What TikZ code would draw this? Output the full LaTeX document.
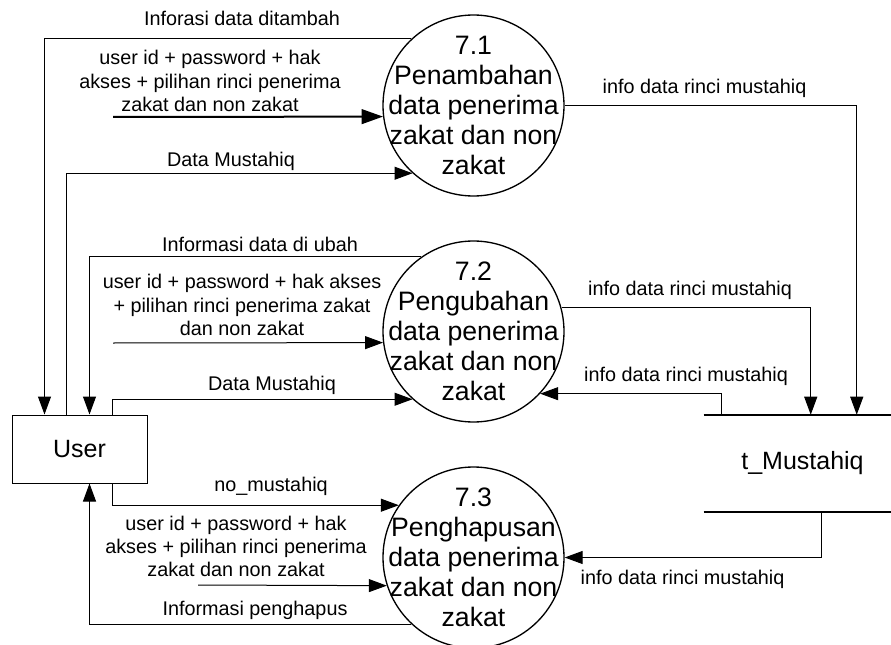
\documentclass[tikz,border=0pt]{standalone}
\usepackage{fontspec}
\setmainfont{Liberation Sans}
\usetikzlibrary{shapes,arrows.meta,positioning,calc}

\begin{document}
\begin{tikzpicture}
             %% setup
             [
                 x=0.75pt, y=-0.75pt,
                 procnode/.style={circle, draw, line width=1pt, inner sep=0pt, minimum size=135.75pt},
                 proctext/.style={inner sep=0pt, align=center, font=\fontsize{20}{22.5}\selectfont},
                 entitynode/.style={rectangle, draw, line width=0.75pt, minimum width=101.25pt, minimum height=51pt, font=\fontsize{18.75}{22}\selectfont},
                 storenode/.style={rectangle, minimum width=140.25pt, minimum height=72.75pt},
                 storetext/.style={inner sep=0pt, font=\fontsize{18.75}{22}\selectfont},
                 flowlabel/.style={inner sep=0pt, align=center, font=\fontsize{14.85}{17.5}\selectfont},
                 flow/.style={line width=0.75pt, -{Triangle[length=13.5pt,width=9.75pt]}},
             ]
                 \useasboundingbox (0,0) rectangle (891,645);

                 %% Nodes
                 \node [procnode] (proc71) at (473.5,105.5) {};
                 \node [procnode] (proc72) at (473.5,331.5) {};
                 \node [procnode] (proc73) at (473.5,557.5) {};
                 \node [proctext] (proc71text) at (proc71) {7.1\\Penambahan\\data penerima\\zakat dan non\\zakat};
                 \node [proctext] (proc72text) at (proc72) {7.2\\Pengubahan\\data penerima\\zakat dan non\\zakat};
                 \node [proctext] (proc73text) at (proc73) {7.3\\Penghapusan\\data penerima\\zakat dan non\\zakat};
                 \node [entitynode] (user) at (79.5,449) {User};
                 \node [storenode] (mustahiq) at (797.5,463.5) {};
                 \node [storetext] (mustahiqtext) at ($(mustahiq)+(5,0)$) {t\_Mustahiq};

                 %% store lines
                 \draw[line width=1.5pt] (mustahiq.north west) -- (mustahiq.north east);
                 \draw[line width=1.5pt] (mustahiq.south west) -- (mustahiq.south east);

                 %% ports
                 \coordinate (userN1) at ($(user.north west)+(33,0)$);
                 \coordinate (userN2) at ($(user.north west)+(55,0)$);
                 \coordinate (userN3) at ($(user.north west)+(78,0)$);
                 \coordinate (userN4) at ($(user.north west)+(101,0)$);
                 \coordinate (userS1) at ($(user.south west)+(78,0)$);
                 \coordinate (userS2) at ($(user.south west)+(101,0)$);
                 \coordinate (storeN1) at ($(mustahiq.north west)+(18,0)$);
                 \coordinate (storeN2) at ($(mustahiq.north west)+(107,0)$);
                 \coordinate (storeN3) at ($(mustahiq.north west)+(153,0)$);
                 \coordinate (storeS1) at ($(mustahiq.south west)+(118,0)$);
                 \coordinate (in71) at (113,117);
                 \coordinate (in72) at (113,343);
                 \coordinate (in73) at (198,585);

                 %% Labels
                 \node [flowlabel] (infoTambah) at (242,18.5) {Inforasi data ditambah};
                 \node [flowlabel] (reqTambah) at (210,81) {user id + password + hak\\akses + pilihan rinci penerima\\zakat dan non zakat};
                 \node [flowlabel] (dataTambah) at (231,161.5) {Data Mustahiq};
                 \node [flowlabel] (infoUbah) at (260,244.5) {Informasi data di ubah};
                 \node [flowlabel] (reqUbah) at (242,305) {user id + password + hak akses\\+ pilihan rinci penerima zakat\\dan non zakat};
                 \node [flowlabel] (dataUbah) at (272,385) {Data Mustahiq};
                 \node [flowlabel] (noHapus) at (271,486) {no\_mustahiq};
                 \node [flowlabel] (reqHapus) at (236,546.5) {user id + password + hak\\akses + pilihan rinci penerima\\zakat dan non zakat};
                 \node [flowlabel] (infoHapus) at (255,610.5) {Informasi penghapus};
                 \node [flowlabel] (rinciTambah) at (704.5,88.5) {info data rinci mustahiq};
                 \node [flowlabel] (rinciUbahOut) at (690,290) {info data rinci mustahiq};
                 \node [flowlabel] (rinciUbahIn) at (686,376) {info data rinci mustahiq};
                 \node [flowlabel] (rinciHapus) at (682.5,579.5) {info data rinci mustahiq};

                 %% Lines
                 \draw[flow] (proc71.133) -| (userN1);
                 \draw[flow, line width=1.5pt, -{Triangle[length=16pt,width=11pt]}] (in71) -- (proc71.187);
                 \draw[flow] (userN2) |- (proc71.228);
                 \draw[flow] (proc72.125) -| (userN3);
                 \draw[flow] (in72) -- (proc72.187);
                 \draw[flow] (userN4) |- (proc72.228);
                 \draw[flow] (userS2) |- (proc73.145);
                 \draw[flow] (in73) -- (proc73.198);
                 \draw[flow] (proc73.227) -| (userS1);

                 \draw[flow] (proc71.east) -| (storeN3);
                 \draw[flow] (proc72.15) -| (storeN2);
                 \draw[flow] (storeN1) |- (proc72.-43);
                 \draw[flow] (storeS1) |- (proc73.east);

        \end{tikzpicture}
\end{document}
